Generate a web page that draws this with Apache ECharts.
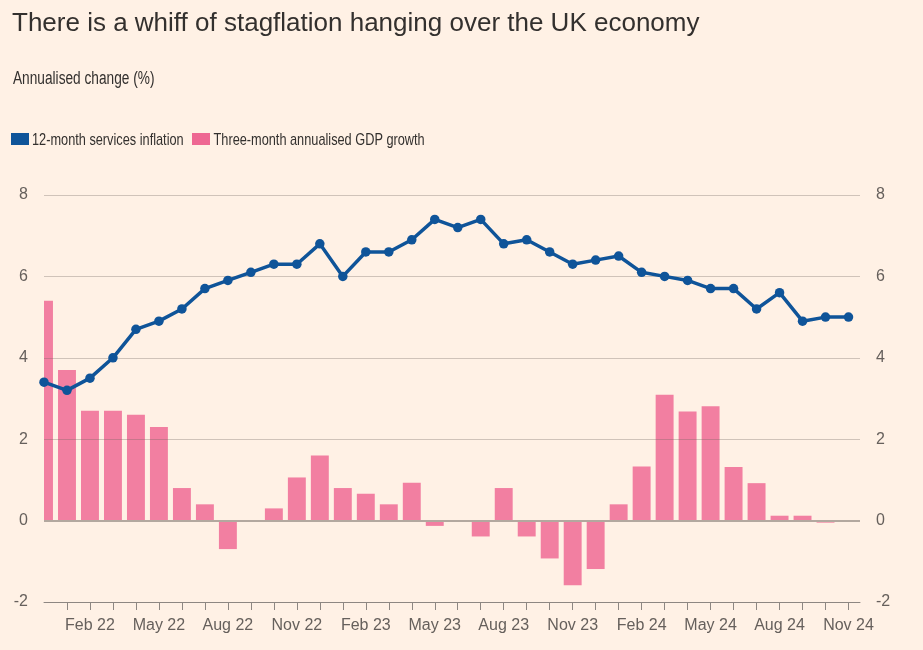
<!DOCTYPE html>
<html>
<head>
<meta charset="utf-8">
<script src="https://cdn.jsdelivr.net/npm/echarts@6/dist/echarts.min.js"></script>
<style>
html,body{margin:0;padding:0;background:#fff1e5;}
#chart{width:923px;height:650px;}
</style>
</head>
<body>
<div id="chart"></div>
<script>
// Months from Dec 2021 to Nov 2024
var months = ['Dec 21','Jan 22','Feb 22','Mar 22','Apr 22','May 22','Jun 22','Jul 22','Aug 22','Sep 22','Oct 22','Nov 22',
  'Dec 22','Jan 23','Feb 23','Mar 23','Apr 23','May 23','Jun 23','Jul 23','Aug 23','Sep 23','Oct 23','Nov 23',
  'Dec 23','Jan 24','Feb 24','Mar 24','Apr 24','May 24','Jun 24','Jul 24','Aug 24','Sep 24','Oct 24','Nov 24'];
var tickLabels = ['Feb 22','May 22','Aug 22','Nov 22','Feb 23','May 23','Aug 23','Nov 23','Feb 24','May 24','Aug 24','Nov 24'];
var servicesInflation = [3.4,3.2,3.5,4.0,4.7,4.9,5.2,5.7,5.9,6.1,6.3,6.3,
  6.8,6.0,6.6,6.6,6.9,7.4,7.2,7.4,6.8,6.9,6.6,6.3,
  6.4,6.5,6.1,6.0,5.9,5.7,5.7,5.2,5.6,4.9,5.0,5.0];
var gdpGrowth = [5.4,3.7,2.7,2.7,2.6,2.3,0.8,0.4,-0.7,0,0.3,1.06,
  1.6,0.8,0.66,0.4,0.93,-0.13,0,-0.39,0.8,-0.39,-0.93,-1.59,
  -1.19,0.4,1.33,3.09,2.68,2.81,1.32,0.92,0.12,0.12,-0.05,null];
var yTicks = [-2,0,2,4,6,8];
var seriesNames = ['12-month services inflation','Three-month annualised GDP growth'];

var lineData = servicesInflation.map(function(v,i){return [i,v];});
var barData = gdpGrowth.map(function(v,i){return [i,v];});
var tickIdx = months.map(function(m,i){return i;}).filter(function(i){return i>0;});
var labelIdx = tickLabels.map(function(l){return months.indexOf(l);});

var BLUE = '#0f5499', PINK = '#f27fa1', PINK_LEG = '#ee6792';
var sans = "'Liberation Sans', Arial, sans-serif";

var chart = echarts.init(document.getElementById('chart'), null, {renderer:'canvas'});
var gridLines = yTicks.filter(function(v){return v>-2;}).map(function(v){
  return v===0 ? {yAxis:v, lineStyle:{color:'#b3a89f', width:2, type:'solid'}}
               : {yAxis:v, lineStyle:{color:'rgba(110,100,92,0.32)', width:1, type:'solid'}};
});
var yAxisCommon = {
  type:'value', min:-2, max:8, interval:2,
  axisLine:{show:false}, axisTick:{show:false}, splitLine:{show:false},
  axisLabel:{color:'#66605c', fontSize:16, fontFamily:sans, margin:16}
};

function renderBar(params, api){
  var v = api.value(1);
  if (v === null || isNaN(v)) return null;
  var x = api.value(0);
  var p0 = api.coord([x, 0]);
  var p1 = api.coord([x, v]);
  var w = api.size([1, 0])[0] * 0.78;
  var rect = {x: p0[0] - w/2, y: Math.min(p0[1], p1[1]), width: w, height: Math.max(Math.abs(p1[1]-p0[1]), 0.5)};
  var cs = params.coordSys;
  var clipped = echarts.graphic.clipRectByRect(rect, {x: cs.x, y: cs.y, width: cs.width, height: cs.height});
  if (!clipped) return null;
  return {type:'rect', shape: clipped, style: {fill: PINK}};
}

chart.setOption({
  backgroundColor:'#fff1e5',
  animation:false,
  title:[
    {text:'There is a whiff of stagflation hanging over the UK economy', left:7, top:6,
     textStyle:{color:'#33302e', fontSize:26, fontWeight:'normal', fontFamily:sans}}
  ],
  graphic:[
    {type:'text', x:13, y:79, scaleX:0.76, silent:true,
     style:{text:'Annualised change (%)', fill:'#33302e', fontSize:18, fontFamily:sans, verticalAlign:'middle'}},
    {type:'rect', shape:{x:11, y:133, width:18, height:12}, style:{fill:BLUE}, silent:true},
    {type:'text', x:32, y:140, scaleX:0.75, silent:true,
     style:{text:seriesNames[0], fill:'#33302e', fontSize:17, fontFamily:sans, verticalAlign:'middle'}},
    {type:'rect', shape:{x:192, y:133, width:18, height:12}, style:{fill:PINK_LEG}, silent:true},
    {type:'text', x:213.5, y:140, scaleX:0.75, silent:true,
     style:{text:seriesNames[1], fill:'#33302e', fontSize:17, fontFamily:sans, verticalAlign:'middle'}}
  ],
  grid:{left:44, right:63, top:195, bottom:48, containLabel:false},
  xAxis:{
    type:'value', min:0, max:35.5, interval:1,
    splitLine:{show:false},
    axisLine:{show:true, onZero:false, lineStyle:{color:'#8e8782', width:1}},
    axisTick:{show:true, length:8, customValues:tickIdx, lineStyle:{color:'#8e8782', width:1}},
    axisLabel:{color:'#66605c', fontSize:16, fontFamily:sans, margin:16, customValues:labelIdx,
      formatter:function(v){return months[Math.round(v)] || '';}}
  },
  yAxis:[
    Object.assign({position:'left'}, yAxisCommon),
    Object.assign({position:'right'}, yAxisCommon)
  ],
  series:[
    {name:seriesNames[1], type:'custom', data:barData, renderItem:renderBar,
     encode:{x:0, y:1}, z:2, clip:true,
     markLine:{silent:true, symbol:'none', label:{show:false}, animation:false, z:3, data:gridLines}},
    {name:seriesNames[0], type:'line', data:lineData, z:10,
     lineStyle:{color:BLUE, width:3.5}, itemStyle:{color:BLUE},
     symbol:'circle', symbolSize:9.5, showSymbol:true}
  ]
});
</script>
</body>
</html>
